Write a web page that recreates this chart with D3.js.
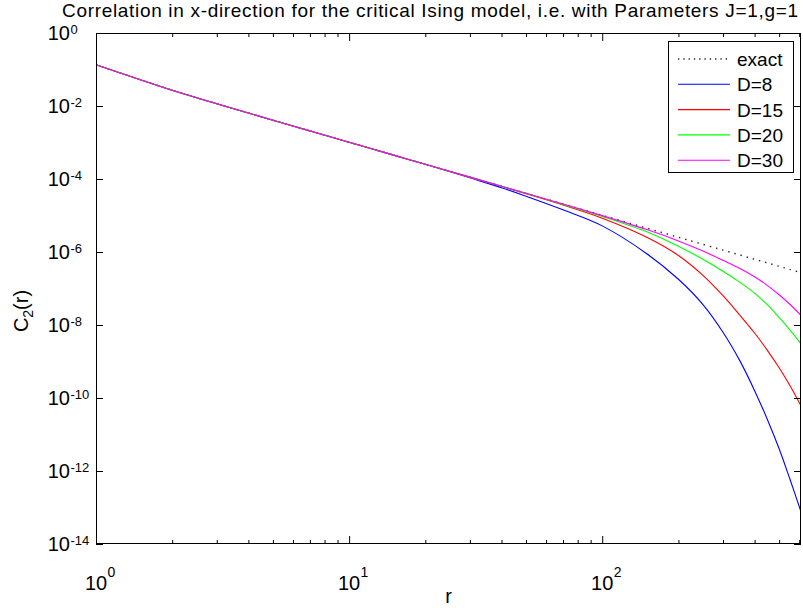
<!DOCTYPE html>
<html><head><meta charset="utf-8">
<script src="https://cdn.jsdelivr.net/npm/d3@7"></script>
<style>
body{margin:0;background:#fff}
svg{display:block}
text{font-family:"Liberation Sans",Arial,Helvetica,sans-serif;fill:#000}
</style>
</head><body>
<svg id="chart" width="803" height="608"></svg>
<script>
// ---------- data ----------
const rValues = [1,2,3,5,7,10,15,20,30,40,50,70,100,150,200,250,300,350,400,450,500,550,610];
const exactValues = [1.352e-1,2.70e-2,1.158e-2,4.09e-3,2.08e-3,1.016e-3,4.51e-4,2.53e-4,1.126e-4,6.33e-5,4.05e-5,2.07e-5,1.013e-5,4.51e-6,2.53e-6,1.62e-6,1.126e-6,8.27e-7,6.33e-7,5.00e-7,4.05e-7,3.35e-7,2.72e-7];
const d8Values  = [1.352e-1,2.70e-2,1.158e-2,4.09e-3,2.08e-3,1.016e-3,4.51e-4,2.53e-4,1.076e-4,5.78e-5,3.37e-5,1.43e-5,5.20e-6,8.99e-7,1.79e-7,3.63e-8,6.34e-9,1.04e-9,1.59e-10,2.51e-11,4.06e-12,6.31e-13,7.67e-14];
const d15Values = [1.352e-1,2.70e-2,1.158e-2,4.09e-3,2.08e-3,1.016e-3,4.51e-4,2.53e-4,1.126e-4,6.33e-5,3.96e-5,1.93e-5,8.43e-6,2.53e-6,8.02e-7,2.29e-7,6.34e-8,1.85e-8,6.05e-9,1.99e-9,6.73e-10,2.26e-10,6.10e-11];
const d20Values = [1.352e-1,2.70e-2,1.158e-2,4.09e-3,2.08e-3,1.016e-3,4.51e-4,2.53e-4,1.126e-4,6.33e-5,4.05e-5,2.02e-5,9.46e-6,3.58e-6,1.43e-6,6.31e-7,2.96e-7,1.47e-7,7.45e-8,3.54e-8,1.61e-8,7.50e-9,3.05e-9];
const d30Values = [1.352e-1,2.70e-2,1.158e-2,4.09e-3,2.08e-3,1.016e-3,4.51e-4,2.53e-4,1.126e-4,6.33e-5,4.05e-5,2.07e-5,9.91e-6,4.11e-6,2.01e-6,1.06e-6,5.92e-7,3.53e-7,2.10e-7,1.20e-7,6.73e-8,3.76e-8,1.84e-8];
const seriesNames  = ["exact","D=8","D=15","D=20","D=30"];
const seriesColors = ["#000000","#0000ff","#ff0000","#00ff00","#ff00ff"];
const xMajorTicks = [1,10,100];
const xTickExponents = ["0","1","2"];
const xMinorTicks = [2,3,4,5,6,7,8,9,20,30,40,50,60,70,80,90,200,300,400,500,600];
const yMajorTicks = [1,1e-2,1e-4,1e-6,1e-8,1e-10,1e-12,1e-14];
const yTickExponents = ["0","-2","-4","-6","-8","-10","-12","-14"];
const titleText = "Correlation in x-direction for the critical Ising model, i.e. with Parameters J=1,g=1";
const xLabelText = "r";

// ---------- layout ----------
const W = 803, H = 608;
const M = {l:96, t:33, r:801, b:544};
const svg = d3.select("#chart");
svg.append("rect").attr("width",W).attr("height",H).attr("fill","#fff");

const x = d3.scaleLog().domain([1,610]).range([M.l,M.r]);
const y = d3.scaleLog().domain([1e-14,1]).range([M.b,M.t]);

svg.append("defs").append("clipPath").attr("id","plotclip")
  .append("rect").attr("x",M.l).attr("y",M.t).attr("width",M.r-M.l).attr("height",M.b-M.t);

svg.append("rect").attr("x",M.l).attr("y",M.t).attr("width",M.r-M.l).attr("height",M.b-M.t)
  .attr("fill","#fff");

// ---------- series ----------
const allSeries = [exactValues,d8Values,d15Values,d20Values,d30Values];
const line = d3.line().x(d=>x(d[0])).y(d=>y(d[1])).curve(d3.curveCatmullRom.alpha(0.5));
const gLines = svg.append("g").attr("clip-path","url(#plotclip)");
allSeries.forEach((vals,i)=>{
  const pts = rValues.map((r,j)=>[r,vals[j]]);
  const p = gLines.append("path").datum(pts).attr("d",line)
    .attr("fill","none").attr("stroke",seriesColors[i]).attr("stroke-width",1.1);
  if(i===0){ p.attr("stroke-width",1.4).attr("stroke-dasharray","1.4,5").attr("stroke","#222"); }
});

// ---------- axes (ticks inward on all four sides) ----------
function styleAxis(g){ g.select(".domain").remove(); g.selectAll("line").attr("stroke","#000"); g.selectAll("text").remove(); }
svg.append("g").attr("transform",`translate(0,${M.b})`)
  .call(d3.axisBottom(x).tickValues(xMajorTicks).tickSizeInner(-8).tickSizeOuter(0).tickFormat("")).call(styleAxis);
svg.append("g").attr("transform",`translate(0,${M.b})`)
  .call(d3.axisBottom(x).tickValues(xMinorTicks).tickSizeInner(-4).tickSizeOuter(0).tickFormat("")).call(styleAxis);
svg.append("g").attr("transform",`translate(0,${M.t})`)
  .call(d3.axisTop(x).tickValues(xMajorTicks).tickSizeInner(-8).tickSizeOuter(0).tickFormat("")).call(styleAxis);
svg.append("g").attr("transform",`translate(0,${M.t})`)
  .call(d3.axisTop(x).tickValues(xMinorTicks).tickSizeInner(-4).tickSizeOuter(0).tickFormat("")).call(styleAxis);
svg.append("g").attr("transform",`translate(${M.l},0)`)
  .call(d3.axisLeft(y).tickValues(yMajorTicks).tickSizeInner(-7).tickSizeOuter(0).tickFormat("")).call(styleAxis);
svg.append("g").attr("transform",`translate(${M.r},0)`)
  .call(d3.axisRight(y).tickValues(yMajorTicks).tickSizeInner(-7).tickSizeOuter(0).tickFormat("")).call(styleAxis);

svg.append("rect").attr("x",M.l+0.5).attr("y",M.t+0.5).attr("width",M.r-M.l-1).attr("height",M.b-M.t-1)
  .attr("fill","none").attr("stroke","#000").attr("stroke-width",1);

// tick labels
xMajorTicks.forEach((v,i)=>{
  const g = svg.append("g");
  g.append("text").attr("x",x(v)).attr("y",590).attr("text-anchor","middle")
    .attr("font-size",20).text("10");
  g.append("text").attr("x",x(v)+11.5).attr("y",577).attr("text-anchor","start")
    .attr("font-size",14).text(xTickExponents[i]);
});
yMajorTicks.forEach((v,i)=>{
  const g = svg.append("g");
  g.append("text").attr("x",70).attr("y",y(v)+7).attr("text-anchor","end")
    .attr("font-size",20).text("10");
  g.append("text").attr("x",70.5).attr("y",y(v)+0.5).attr("text-anchor","start")
    .attr("font-size",13).text(yTickExponents[i]);
});

// title and axis labels
svg.append("text").attr("x",62).attr("y",17.4).attr("text-anchor","start")
  .attr("font-size",19).attr("textLength",736).attr("lengthAdjust","spacing").text(titleText);
svg.append("text").attr("x",(M.l+M.r)/2).attr("y",603).attr("text-anchor","middle")
  .attr("font-size",20).text(xLabelText);
const yl = svg.append("text").attr("transform","translate(28,311) rotate(-90)")
  .attr("text-anchor","middle").attr("font-size",20);
yl.append("tspan").text("C");
yl.append("tspan").attr("font-size",14).attr("dy",5).text("2");
yl.append("tspan").attr("dy",-5).text("(r)");

// ---------- legend ----------
const lg = svg.append("g");
lg.append("rect").attr("x",668.5).attr("y",41.5).attr("width",125).attr("height",131)
  .attr("fill","#fff").attr("stroke","#000").attr("stroke-width",1);
seriesNames.forEach((name,i)=>{
  const yy = 59 + 25.3*i;
  const l = lg.append("line").attr("x1",678).attr("x2",730).attr("y1",yy).attr("y2",yy)
    .attr("stroke",seriesColors[i]).attr("stroke-width",1.1);
  if(i===0){ l.attr("stroke-dasharray","1.3,4").attr("stroke-width",1.3).attr("stroke","#222"); }
  lg.append("text").attr("x",737).attr("y",yy+7).attr("font-size",19).text(name);
});
</script>
</body></html>
